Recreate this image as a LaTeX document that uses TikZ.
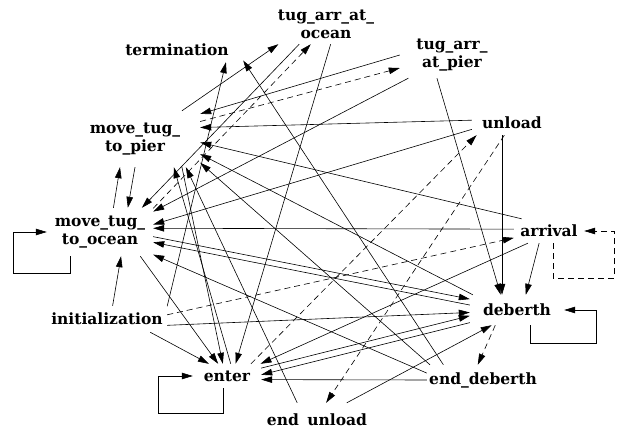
\documentclass[tikz,border=0pt]{standalone}
\usepackage{fontspec}
\setmainfont{DejaVu Serif}
\usetikzlibrary{arrows.meta}
\tikzset{
  ev/.style    ={font=\bfseries\fontsize{15.5}{18}\selectfont,align=center,inner sep=0pt},
  sched/.style ={-{Triangle[length=11pt,width=6.5pt]},line width=0.6pt},
  delay/.style ={sched,dash pattern=on 6pt off 4pt},
}

\begin{document}
\begin{tikzpicture}[x=1pt,y=1pt]
  \useasboundingbox (0,0) rectangle (618,-433);
  % events
  \node[ev,minimum width=132,minimum height=24] (term) at (177,-50)  {termination};
  \node[ev,minimum width=110,minimum height=40] (tao)  at (326,-24)  {tug\_arr\_at\_\\ocean};
  \node[ev,minimum width=104,minimum height=46] (tap)  at (452,-55)  {tug\_arr\_\\at\_pier};
  \node[ev,minimum width=80,minimum height=24]  (unl)  at (512,-123) {unload};
  \node[ev,minimum width=130,minimum height=56] (mtp)  at (135,-139) {move\_tug\_\\to\_pier};
  \node[ev,minimum width=106,minimum height=48] (mto)  at (100,-232) {move\_tug\_\\to\_ocean};
  \node[ev,minimum width=70,minimum height=24]  (arr)  at (549,-231) {arrival};
  \node[ev,minimum width=120,minimum height=26] (ini)  at (107,-319) {initialization};
  \node[ev,minimum width=94,minimum height=30]  (deb)  at (517,-310) {deberth};
  \node[ev,minimum width=68,minimum height=24]  (ent)  at (227,-376) {enter};
  \node[ev,minimum width=112,minimum height=30] (ede)  at (483,-380) {end\_deberth};
  \node[ev,minimum width=112,minimum height=34] (eun)  at (317,-420) {end\hspace{0.2em} unload};
  % scheduling edges
  \draw[sched] (mtp.31) -- (tao.-157);
  \draw[delay] (mto.24) -- (tao.-127);
  \draw[sched] (tao.-143) -- (mto.30);
  \draw[sched] (tao.-77) -- (ent.55);
  \draw[sched] (ini.12) -- (term.-14);
  \draw[sched] (ede.159) -- (term.-9);
  \draw[sched] (tap.180) -- (mtp.21);
  \draw[delay] (mtp.15) -- (tap.-166);
  \draw[sched] (tap.-152) -- (mto.21);
  \draw[sched] (tap.-123) -- (deb.137);
  \draw[sched] (unl.176) -- (mtp.10);
  \draw[sched] (unl.-171) -- (mto.8);
  \draw[delay] (unl.-122) -- (eun.62);
  \draw[sched] ([xshift=-10pt]unl.south) -- ([xshift=-15pt]deb.north);
  \draw[delay] (ent.27) -- (unl.-161);
  \draw[sched] (arr.156) -- (mtp.-3);
  \draw[sched] (arr.177) -- (mto.4);
  \draw[sched] (arr.-129) -- (deb.60);
  \draw[sched] (arr.-150) -- (ent.20);
  \draw[delay] ([xshift=4pt]arr.south) |- ++(61,-35) |- (arr.east);
  \draw[delay] (ini.4) -- (arr.-169);
  \draw[sched] (ini.67) -- (mto.-49);
  \draw[sched] (ini.-17) -- (ent.146);
  \draw[sched] (ini.-6) -- (deb.-177);
  \draw[sched] (mto.-5) -- (deb.167);
  \draw[sched] (deb.174) -- (mto.-11);
  \draw[sched] (mto.-31) -- (ent.126);
  \draw[sched] (mto.61) -- (mtp.-118);
  \draw[sched] (mtp.-90) -- (mto.41);
  \draw[sched] ([xshift=-30pt]mto.south) |- ++(-57,-17) |- (mto.west);
  \draw[sched] (ede.173) -- (mto.-23);
  \draw[sched] (mtp.-31) -- (ent.109);
  \draw[sched] (ent.73) -- (mtp.-36);
  \draw[sched] ([xshift=-4pt]ent.south) |- ++(-65,-25) |- (ent.west);
  \draw[sched] (ent.13) -- (deb.-173);
  \draw[sched] (deb.-165) -- (ent.2);
  \draw[sched] (ede.180) -- (ent.-6);
  \draw[delay] (deb.-145) -- (ede.109);
  \draw[sched] (eun.30) -- (deb.-149);
  \draw[sched] ([xshift=13pt]deb.south) |- ++(66,-18) |- (deb.east);
  \draw[sched] (eun.139) -- (mtp.-29);
  \draw[sched] (deb.161) -- (mtp.-13);
  \draw[sched] (ede.164) -- (mtp.-20);
\end{tikzpicture}
\end{document}
